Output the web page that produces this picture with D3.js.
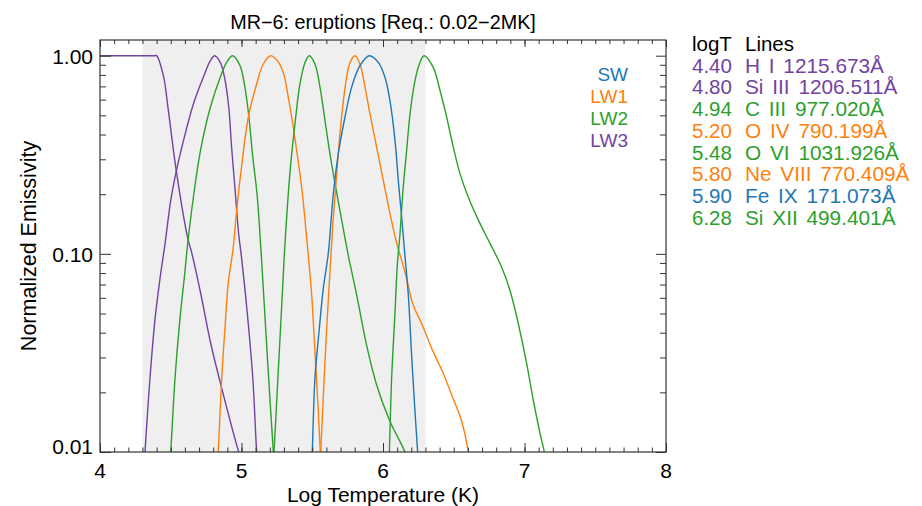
<!DOCTYPE html>
<html>
<head>
<meta charset="utf-8">
<script src="https://cdn.jsdelivr.net/npm/d3@7"></script>
<style>
  body { margin: 0; background: #fff; }
  svg { display: block; font-family: "Liberation Sans", Arial, Helvetica, sans-serif; }
</style>
</head>
<body>
<div id="chart"></div>
<script>
// Emissivity curves, values (logT, normalized emissivity)
const hiLogT   = [4.00, 4.20, 4.385, 4.40, 4.45, 4.48, 4.54, 4.62, 4.65, 4.71, 4.78, 4.86, 4.98, 5.00];
const hiEmis   = [1.0, 1.0, 1.0, 1.0, 0.78, 0.55, 0.26, 0.12, 0.10, 0.064, 0.036, 0.021, 0.010, 0.009];

const si3LogT  = [4.30, 4.318, 4.353, 4.389, 4.424, 4.46, 4.50, 4.54, 4.59, 4.66, 4.73, 4.78, 4.81, 4.85, 4.88, 4.91, 4.93, 4.955, 4.98, 5.00, 5.04, 5.08, 5.107, 5.13];
const si3Emis  = [0.006, 0.010, 0.0235, 0.047, 0.075, 0.113, 0.186, 0.263, 0.373, 0.571, 0.778, 0.944, 1.0, 0.925, 0.778, 0.549, 0.345, 0.209, 0.126, 0.096, 0.051, 0.0235, 0.010, 0.006];

const c3LogT   = [4.48, 4.50, 4.53, 4.565, 4.60, 4.62, 4.66, 4.71, 4.78, 4.85, 4.895, 4.937, 4.99, 5.02, 5.05, 5.08, 5.11, 5.14, 5.17, 5.20, 5.225, 5.24];
const c3Emis   = [0.006, 0.010, 0.0235, 0.047, 0.081, 0.113, 0.193, 0.332, 0.549, 0.778, 0.925, 1.0, 0.89, 0.72, 0.508, 0.307, 0.20, 0.098, 0.043, 0.019, 0.010, 0.007];

const o4LogT   = [4.82, 4.836, 4.86, 4.883, 4.907, 4.94, 4.966, 5.00, 5.048, 5.107, 5.154, 5.206, 5.26, 5.30, 5.33, 5.355, 5.39, 5.425, 5.449, 5.472, 5.496, 5.519, 5.543, 5.557, 5.565];
const o4Emis   = [0.006, 0.010, 0.0235, 0.042, 0.072, 0.105, 0.166, 0.274, 0.489, 0.72, 0.908, 1.0, 0.93, 0.80, 0.62, 0.489, 0.332, 0.217, 0.148, 0.098, 0.062, 0.032, 0.016, 0.010, 0.007];

const o6LogT   = [5.22, 5.23, 5.27, 5.303, 5.343, 5.378, 5.413, 5.449, 5.479, 5.519, 5.555, 5.59, 5.625, 5.661, 5.708, 5.755, 5.814, 5.884, 5.955, 6.049, 6.155, 6.20];
const o6Emis   = [0.007, 0.010, 0.035, 0.10, 0.26, 0.453, 0.72, 0.925, 1.0, 0.908, 0.692, 0.47, 0.32, 0.226, 0.148, 0.098, 0.062, 0.0346, 0.0218, 0.0143, 0.010, 0.008];

const ne8LogT  = [5.55, 5.56, 5.578, 5.602, 5.625, 5.649, 5.673, 5.696, 5.72, 5.743, 5.767, 5.802, 5.837, 5.873, 5.908, 5.955, 6.002, 6.049, 6.097, 6.155, 6.214, 6.27, 6.355, 6.42, 6.497, 6.556, 6.603, 6.62];
const ne8Emis  = [0.006, 0.010, 0.019, 0.042, 0.081, 0.153, 0.254, 0.403, 0.593, 0.778, 0.925, 1.0, 0.908, 0.692, 0.508, 0.345, 0.235, 0.16, 0.113, 0.081, 0.055, 0.045, 0.032, 0.0255, 0.0185, 0.0143, 0.010, 0.008];

const fe9LogT  = [5.49, 5.50, 5.519, 5.55, 5.578, 5.613, 5.649, 5.684, 5.731, 5.778, 5.837, 5.903, 5.967, 6.014, 6.049, 6.085, 6.108, 6.132, 6.155, 6.179, 6.202, 6.226, 6.245, 6.255];
const fe9Emis  = [0.007, 0.010, 0.0235, 0.042, 0.067, 0.10, 0.201, 0.32, 0.489, 0.692, 0.89, 1.0, 0.925, 0.778, 0.593, 0.373, 0.235, 0.153, 0.098, 0.062, 0.031, 0.016, 0.010, 0.008];

const si12LogT = [6.035, 6.045, 6.061, 6.085, 6.101, 6.12, 6.143, 6.167, 6.191, 6.226, 6.257, 6.29, 6.355, 6.403, 6.45, 6.497, 6.544, 6.603, 6.674, 6.756, 6.838, 6.897, 6.956, 7.015, 7.062, 7.11, 7.14, 7.16];
const si12Emis = [0.006, 0.010, 0.0235, 0.051, 0.0875, 0.126, 0.217, 0.332, 0.508, 0.748, 0.908, 1.0, 0.873, 0.667, 0.489, 0.345, 0.254, 0.193, 0.148, 0.113, 0.0858, 0.0655, 0.0445, 0.028, 0.0183, 0.0124, 0.010, 0.008];

// legend tables
const lineTemps  = ["4.40", "4.80", "4.94", "5.20", "5.48", "5.80", "5.90", "6.28"];
const lineNames  = ["H I 1215.673Å", "Si III 1206.511Å", "C III 977.020Å", "O IV 790.199Å",
                    "O VI 1031.926Å", "Ne VIII 770.409Å", "Fe IX 171.073Å", "Si XII 499.401Å"];
const lineColors = ["#7243a0", "#7243a0", "#2ca02c", "#ff7f0e", "#2ca02c", "#ff7f0e", "#1f77b4", "#2ca02c"];
const channels      = ["SW", "LW1", "LW2", "LW3"];
const channelColors = ["#1f77b4", "#ff7f0e", "#2ca02c", "#7243a0"];

// axis ticks
const xTickLabels = ["4", "5", "6", "7", "8"];
const yTickLabels = ["0.01", "0.10", "1.00"];
const reqBand = [4.3, 6.3];   // 0.02 - 2 MK

const allSeries = [
  [hiLogT, hiEmis], [si3LogT, si3Emis], [c3LogT, c3Emis], [o4LogT, o4Emis],
  [o6LogT, o6Emis], [ne8LogT, ne8Emis], [fe9LogT, fe9Emis], [si12LogT, si12Emis]
];

const width = 922, height = 506;
const margin = {left: 100, right: 256, top: 40, bottom: 54};

const svg = d3.select("#chart").append("svg")
  .attr("width", width).attr("height", height);

const x = d3.scaleLinear().domain([4, 8]).range([margin.left, width - margin.right]);
const y = d3.scaleLog().domain([0.01, 1.2]).range([height - margin.bottom, margin.top]);

function label(txt, px, py, anchor, size, color) {
  return svg.append("text")
    .attr("x", px).attr("y", py)
    .attr("text-anchor", anchor)
    .style("font-size", size + "px")
    .attr("fill", color || "#000")
    .text(txt);
}

// gray band for required range
svg.append("rect")
  .attr("x", x(reqBand[0])).attr("y", margin.top)
  .attr("width", x(reqBand[1]) - x(reqBand[0]))
  .attr("height", y.range()[0] - margin.top)
  .attr("fill", "#efefef");

svg.append("clipPath").attr("id", "plotclip").append("rect")
  .attr("x", margin.left).attr("y", margin.top)
  .attr("width", x.range()[1] - margin.left)
  .attr("height", y.range()[0] - margin.top);

const line = d3.line()
  .x(d => x(d[0]))
  .y(d => y(d[1]))
  .curve(d3.curveCatmullRom.alpha(0.5));

allSeries.forEach((s, i) => {
  const pts = s[0].map((t, j) => [t, s[1][j]]);
  svg.append("path")
    .datum(pts)
    .attr("d", line)
    .attr("fill", "none")
    .attr("stroke", lineColors[i])
    .attr("stroke-width", 1.4)
    .attr("clip-path", "url(#plotclip)");
});

// ticks (inward, IDL style)
const xMinor = d3.range(40, 81).map(v => v / 10);
const xMajor = xTickLabels.map(Number);
const yMinor = [];
[0.01, 0.1].forEach(dec => { for (let k = 2; k <= 9; k++) yMinor.push(dec * k); });
const yMajor = yTickLabels.map(Number);

function ticks(axisFn, scale, values, size, tx, ty) {
  const g = svg.append("g")
    .attr("transform", `translate(${tx},${ty})`)
    .call(axisFn(scale).tickValues(values).tickSizeInner(-size).tickSizeOuter(0).tickFormat(""));
  g.select(".domain").remove();
  g.selectAll("line").attr("stroke", "#333").attr("stroke-width", 1);
}
const x0 = margin.left, x1 = x.range()[1], y0 = y.range()[0], y1 = margin.top;
ticks(d3.axisBottom, x, xMinor, 4.5, 0, y0);
ticks(d3.axisBottom, x, xMajor, 9, 0, y0);
ticks(d3.axisTop, x, xMinor, 4, 0, y1);
ticks(d3.axisTop, x, xMajor, 7, 0, y1);
ticks(d3.axisLeft, y, yMinor, 6, x0, 0);
ticks(d3.axisLeft, y, yMajor, 11, x0, 0);
ticks(d3.axisRight, y, yMinor, 6, x1, 0);
ticks(d3.axisRight, y, yMajor, 10, x1, 0);

// frame
svg.append("rect")
  .attr("x", x0).attr("y", y1)
  .attr("width", x1 - x0).attr("height", y0 - y1)
  .attr("fill", "none").attr("stroke", "#333").attr("stroke-width", 1.2);

// tick labels
xTickLabels.forEach(t => label(t, x(+t), y0 + 26, "middle", 21));
yTickLabels.forEach(t => label(t, x0 - 7, Math.min(y(+t) + 8, y0 + 1.5), "end", 21));

// titles
label("MR\u22126: eruptions [Req.: 0.02\u22122MK]", (x0 + x1) / 2, 29, "middle", 19.8);
label("Log Temperature (K)", (x0 + x1) / 2, 502, "middle", 21);
svg.append("text")
  .attr("transform", `translate(36,${(y0 + y1) / 2}) rotate(-90)`)
  .attr("text-anchor", "middle")
  .style("font-size", "21.5px")
  .text("Normalized Emissivity");

// channel legend
channels.forEach((c, i) => {
  label(c, 628, 81 + i * 22, "end", 19, channelColors[i]);
});

// line table
label("logT", 692, 51, "start", 20.5);
label("Lines", 745, 51, "start", 20.5);
lineTemps.forEach((t, i) => {
  const py = 51 + (i + 1) * 21.7;
  label(t, 692, py, "start", 20.5, lineColors[i]);
  label(lineNames[i], 745, py, "start", 20.8, lineColors[i])
    .style("word-spacing", "3px");
});
</script>
</body>
</html>
